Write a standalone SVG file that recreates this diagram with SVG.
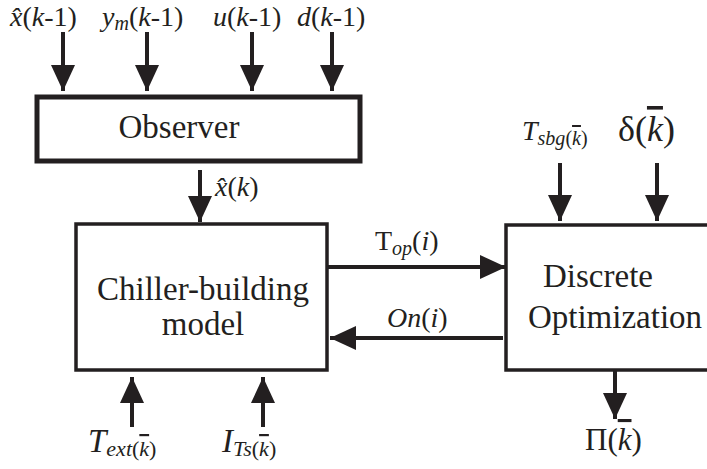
<svg xmlns="http://www.w3.org/2000/svg" width="707" height="469" viewBox="0 0 707 469" font-family="Liberation Serif">
<defs>
<marker id="ah" markerUnits="userSpaceOnUse" markerWidth="28" markerHeight="24" refX="26" refY="12" orient="auto">
<path d="M0,0 L26,12 L0,24 Z" fill="#231f20"/>
</marker>
</defs>
<rect width="707" height="469" fill="#fff"/>
<g id="connectors" stroke="#231f20" stroke-width="4" fill="none">
<line x1="63" y1="32" x2="63" y2="91" marker-end="url(#ah)"/>
<line x1="147" y1="32" x2="147" y2="91" marker-end="url(#ah)"/>
<line x1="252" y1="32" x2="252" y2="91" marker-end="url(#ah)"/>
<line x1="332" y1="32" x2="332" y2="91" marker-end="url(#ah)"/>
<line x1="200" y1="170" x2="200" y2="222" marker-end="url(#ah)"/>
<line x1="132" y1="427" x2="132" y2="377" marker-end="url(#ah)"/>
<line x1="263" y1="427" x2="263" y2="377" marker-end="url(#ah)"/>
<line x1="327" y1="267" x2="506" y2="267" marker-end="url(#ah)"/>
<line x1="503" y1="338" x2="330" y2="338" marker-end="url(#ah)"/>
<line x1="560" y1="163" x2="560" y2="221" marker-end="url(#ah)"/>
<line x1="657" y1="163" x2="657" y2="221" marker-end="url(#ah)"/>
<line x1="615" y1="370" x2="615" y2="419" marker-end="url(#ah)"/>
</g>
<g id="observer">
<rect x="37" y="97" width="323" height="64" fill="#fff" stroke="#231f20" stroke-width="5"/>
<text x="179" y="138" style="font-family:'Liberation Serif'" font-size="33" fill="#231f20" text-anchor="middle">Observer</text>
</g>
<g id="chiller">
<rect x="76" y="224" width="251" height="146" fill="#fff" stroke="#231f20" stroke-width="3.5"/>
<text x="203" y="300" style="font-family:'Liberation Serif'" font-size="33" fill="#231f20" text-anchor="middle">Chiller-building</text>
<text x="203" y="335" style="font-family:'Liberation Serif'" font-size="33" fill="#231f20" text-anchor="middle">model</text>
</g>
<g id="optimization">
<rect x="506" y="225" width="220" height="145" fill="#fff" stroke="#231f20" stroke-width="3.5"/>
<text x="598" y="287" style="font-family:'Liberation Serif'" font-size="33" fill="#231f20" text-anchor="middle">Discrete</text>
<text x="615" y="328" style="font-family:'Liberation Serif'" font-size="33" fill="#231f20" text-anchor="middle">Optimization</text>
</g>
<g id="labels" fill="#231f20" style="font-family:'Liberation Serif'">
<text x="10" y="26" font-size="28"><tspan font-style="italic">x̂</tspan>(<tspan font-style="italic">k</tspan>-1)</text>
<text x="102" y="26" font-size="28"><tspan font-style="italic">y</tspan><tspan font-style="italic" font-size="20" dy="4">m</tspan><tspan dy="-4">(</tspan><tspan font-style="italic">k</tspan>-1)</text>
<text x="213" y="26" font-size="28"><tspan font-style="italic">u</tspan>(<tspan font-style="italic">k</tspan>-1)</text>
<text x="297" y="26" font-size="28"><tspan font-style="italic">d</tspan>(<tspan font-style="italic">k</tspan>-1)</text>
<text x="215" y="196" font-size="28"><tspan font-style="italic">x̂</tspan>(<tspan font-style="italic">k</tspan>)</text>
<text x="375" y="250" font-size="28">T<tspan font-style="italic" font-size="20" dy="5">op</tspan><tspan dy="-5">(</tspan><tspan font-style="italic">i</tspan>)</text>
<text x="387" y="327" font-size="28"><tspan font-style="italic">On</tspan>(<tspan font-style="italic">i</tspan>)</text>
<text x="522" y="140" font-size="28"><tspan font-style="italic">T</tspan><tspan font-style="italic" font-size="20" dy="5">sbg</tspan><tspan font-size="20">(</tspan><tspan font-style="italic" font-size="20" text-decoration="overline">k</tspan><tspan font-size="20">)</tspan></text>
<text x="618" y="141" font-size="36">δ(<tspan font-style="italic" text-decoration="overline">k</tspan>)</text>
<text x="88" y="452" font-size="33"><tspan font-style="italic">T</tspan><tspan font-style="italic" font-size="22" dy="4">ext</tspan><tspan font-size="22">(</tspan><tspan font-style="italic" font-size="22" text-decoration="overline">k</tspan><tspan font-size="22">)</tspan></text>
<text x="222" y="452" font-size="33"><tspan font-style="italic">I</tspan><tspan font-style="italic" font-size="22" dy="4">Ts</tspan><tspan font-size="22">(</tspan><tspan font-style="italic" font-size="22" text-decoration="overline">k</tspan><tspan font-size="22">)</tspan></text>
<text x="585" y="450" font-size="31">Π(<tspan font-style="italic" text-decoration="overline">k</tspan>)</text>
</g>
</svg>
